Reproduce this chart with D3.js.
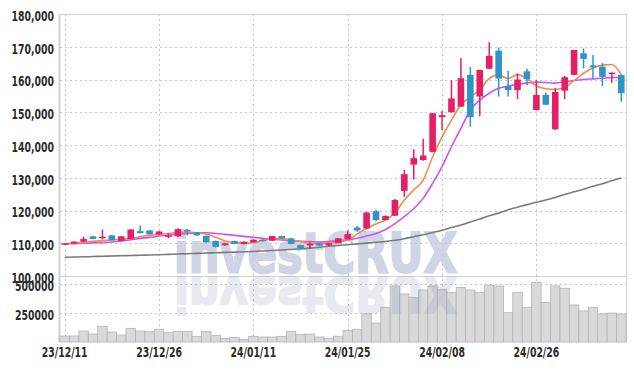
<!DOCTYPE html>
<html lang="en">
<head>
<meta charset="utf-8">
<title>Candles</title>
<script src="https://cdn.jsdelivr.net/npm/d3@7"></script>
<style>
  body { margin: 0; background: #fff; }
  .tick text { font-family: 'DejaVu Sans Condensed', 'DejaVu Sans', sans-serif; font-size: 14px; font-weight: bold; fill: #2b2b2b; }
</style>
</head>
<body>
<script>
// trading days
var dates = ["23/12/11","23/12/12","23/12/13","23/12/14","23/12/15","23/12/18","23/12/19","23/12/20","23/12/21","23/12/22",
  "23/12/26","23/12/27","23/12/28","24/01/02","24/01/03","24/01/04","24/01/05","24/01/08","24/01/09","24/01/10",
  "24/01/11","24/01/12","24/01/15","24/01/16","24/01/17","24/01/18","24/01/19","24/01/22","24/01/23","24/01/24",
  "24/01/25","24/01/26","24/01/29","24/01/30","24/01/31","24/02/01","24/02/02","24/02/05","24/02/06","24/02/07",
  "24/02/08","24/02/13","24/02/14","24/02/15","24/02/16","24/02/19","24/02/20","24/02/21","24/02/22","24/02/23",
  "24/02/26","24/02/27","24/02/28","24/02/29","24/03/04","24/03/05","24/03/06","24/03/07","24/03/08","24/03/11"];

var open  = [109700,109900,110500,112100,111900,112400,110700,111300,113700,113900,
  112700,112300,112100,114100,113300,112300,110700,109400,110700,109800,
  110300,111100,110800,112200,111500,109500,109700,110000,109400,110000,
  111200,114800,114500,119800,117100,118400,126000,134000,135400,137900,
  148500,150000,151700,161400,154800,163300,168800,158000,156800,162500,
  150700,155300,144800,156600,161400,168000,164300,163900,161700,161400];
var high  = [110000,110600,112000,112200,114200,112500,112200,114300,115400,114000,
  113700,113100,114600,114300,113400,112400,110800,110100,110800,110500,
  111200,111300,112300,112300,111600,109600,110300,110100,110100,111600,
  113900,115300,119500,120200,118500,123500,132400,138700,141900,149800,
  150400,159800,166500,163800,163000,171400,169800,162700,161900,163300,
  159800,156000,157300,161100,169000,169500,167500,165000,162100,161500];
var low   = [109600,109800,110400,111200,111200,110900,110600,111200,113000,112700,
  112600,111500,111900,112400,112300,110200,108700,109200,109700,109600,
  110200,110700,110700,111300,109700,108000,108400,109200,109000,109900,
  111100,113500,114400,116700,117000,118300,124200,129500,135200,137800,
  144600,149900,151600,145600,148800,163200,154800,154800,154000,158300,
  150600,152200,144600,154000,161300,163400,160400,158000,159000,153200];
var close = [110000,110500,111300,111300,112000,110900,112100,114200,113100,112700,
  113600,112400,114300,113600,112400,110300,108900,110000,109800,110400,
  111100,110800,112200,111400,109800,108400,109800,109300,110000,111500,
  112800,113900,119400,117100,118300,123200,131100,136000,136800,149700,
  149100,154200,160400,148500,162900,167200,160300,156800,160000,160100,
  155300,152300,156200,160700,169000,166300,163700,160800,162100,155800];

var volume = [52000,52000,95000,69000,135000,86000,60000,118000,95000,89000,
  110000,80000,92000,92000,49000,92000,58000,32000,40000,23000,
  49000,43000,43000,49000,92000,66000,69000,43000,32000,50000,
  98000,110000,242000,164000,300000,484000,415000,386000,449000,484000,
  455000,429000,472000,449000,429000,492000,484000,253000,429000,300000,
  515000,343000,484000,464000,320000,268000,300000,242000,250000,242000];

// moving average lines
var ma5 = [109800,110000,110300,110600,110800,111000,111200,111500,112000,112400,
  112800,113000,113300,113400,113200,112800,111800,110700,110200,110000,
  110200,110800,111300,111400,111000,110500,110000,109800,110000,110500,
  111000,112800,114500,115900,117100,119300,123200,126300,129300,136400,
  142500,147600,152200,154700,156800,160300,161400,160300,161500,160300,
  158000,157200,157000,157500,159700,161900,163500,164400,164600,161500];
var ma20 = [109800,109900,110000,110100,110200,110400,110700,111100,111500,111800,
  112200,112500,112800,113000,113200,113200,113000,112700,112400,112100,
  111800,111500,111200,111000,110800,110600,110500,110400,110500,110800,
  111000,111500,112200,113000,114200,116000,118100,120600,123700,128300,
  133400,139500,145100,150700,153700,155800,157300,158000,158500,158900,
  159200,159100,158900,159300,159700,160000,160200,160400,160600,160700];
var ma120 = [105700,105780,105860,105940,106020,106100,106180,106260,106340,106420,
  106500,106600,106700,106800,106900,107000,107100,107200,107300,107400,
  107500,107650,107800,107950,108100,108300,108500,108800,109100,109350,
  109550,109800,110050,110300,110550,110900,111400,112000,112600,113300,
  114000,114800,115600,116500,117400,118400,119200,120200,121000,121800,
  122500,123200,124000,124900,125700,126500,127400,128200,129100,129900];

var priceTicks = [100000,110000,120000,130000,140000,150000,160000,170000,180000];
var volTicks = [250000, 500000];
var tickLabels = ["23/12/11","23/12/26","24/01/11","24/01/25","24/02/08","24/02/26"];

var W = 634, H = 370;
var pLeft = 60, pRight = 626, pTop = 14, pMid = 276, pBottom = 342;

var svg = d3.select("body").append("svg")
  .attr("width", W).attr("height", H);

var x = d3.scaleBand().domain(dates).range([pLeft, pRight])
  .paddingInner(0.3).paddingOuter(0.15);
var step = x.step();
var cx = function(d) { return x(d) + x.bandwidth() / 2; };

var y = d3.scaleLinear().domain([100000, 180000]).range([pMid, pTop]);
var yv = d3.scaleLinear().domain([0, 570000]).range([pBottom, pMid]);

// watermark
var mark = function(sel) {
  return sel.attr("x", 174).attr("y", 272)
    .attr("textLength", 283).attr("lengthAdjust", "spacingAndGlyphs")
    .style("font-family", "DejaVu Sans").style("font-weight", "bold")
    .style("font-size", "55px").style("stroke-width", 2.2)
    .text("investCRUX");
};
svg.append("text").call(mark).style("fill", "#cfd5e5").style("stroke", "#cfd5e5");

// grid
var grid = svg.append("g");
grid.selectAll("line.h").data(priceTicks.slice(1, -1)).enter().append("line")
  .attr("x1", pLeft).attr("x2", pRight)
  .attr("y1", function(d) { return Math.round(y(d)) + 0.5; }).attr("y2", function(d) { return Math.round(y(d)) + 0.5; });
grid.selectAll("line.v").data(volTicks).enter().append("line")
  .attr("x1", pLeft).attr("x2", pRight)
  .attr("y1", function(d) { return Math.round(yv(d)) + 0.5; }).attr("y2", function(d) { return Math.round(yv(d)) + 0.5; });
grid.selectAll("line.x").data(tickLabels).enter().append("line")
  .attr("x1", function(d) { return Math.round(cx(d)) + 0.5; }).attr("x2", function(d) { return Math.round(cx(d)) + 0.5; })
  .attr("y1", pTop).attr("y2", pBottom);
grid.selectAll("line").attr("stroke", "#c4c7d6").attr("stroke-dasharray", "2,3");

// frame
var frame = svg.append("g").attr("stroke", "#cfd0d8").attr("fill", "none");
frame.append("line").attr("x1", pLeft).attr("x2", pRight).attr("y1", pTop + 0.5).attr("y2", pTop + 0.5);
frame.append("line").attr("x1", pLeft).attr("x2", pRight).attr("y1", pMid + 0.5).attr("y2", pMid + 0.5);
frame.append("line").attr("x1", pLeft).attr("x2", pRight).attr("y1", pBottom - 0.5).attr("y2", pBottom - 0.5);
frame.append("line").attr("x1", pLeft - 0.5).attr("x2", pLeft - 0.5).attr("y1", pTop).attr("y2", pBottom).attr("stroke-width", 2);
frame.append("line").attr("x1", pRight + 0.5).attr("x2", pRight + 0.5).attr("y1", pTop).attr("y2", pBottom);

// volume
svg.append("g").selectAll("rect").data(dates).enter().append("rect")
  .attr("x", function(d) { return x(d) - step * 0.15; })
  .attr("width", step)
  .attr("y", function(d, i) { return yv(volume[i]); })
  .attr("height", function(d, i) { return pBottom - yv(volume[i]); })
  .attr("fill", "#d9d9db").attr("stroke", "#b4b4b8").attr("stroke-width", 0.8);

// watermark reflection
svg.append("g").attr("transform", "translate(0,277) scale(1,-0.9) translate(0,-272)")
  .append("text").call(mark)
  .style("fill", "#8f98b8").style("stroke", "#8f98b8").style("opacity", 0.2);

// moving averages
var line = function(arr) {
  return d3.line().x(function(d) { return cx(d); })
    .y(function(d, i) { return y(arr[i]); })
    .curve(d3.curveMonotoneX)(dates);
};
svg.append("path").attr("d", line(ma120)).attr("fill", "none").attr("stroke", "#7b7b7b").attr("stroke-width", 1.6);
svg.append("path").attr("d", line(ma20)).attr("fill", "none").attr("stroke", "#cc55ee").attr("stroke-width", 1.6);
svg.append("path").attr("d", line(ma5)).attr("fill", "none").attr("stroke", "#ef8b4e").attr("stroke-width", 1.6);

// candles
var up = "#e61e66", down = "#2f95c8";
var candles = svg.append("g").selectAll("g").data(dates).enter().append("g");
candles.append("line")
  .attr("x1", function(d) { return cx(d); }).attr("x2", function(d) { return cx(d); })
  .attr("y1", function(d, i) { return y(high[i]); })
  .attr("y2", function(d, i) { return y(low[i]); })
  .attr("stroke", function(d, i) { return close[i] >= open[i] ? up : down; })
  .attr("stroke-width", 1.5);
candles.append("rect")
  .attr("x", function(d) { return x(d); })
  .attr("width", x.bandwidth())
  .attr("y", function(d, i) { return y(Math.max(open[i], close[i])); })
  .attr("height", function(d, i) { return Math.max(1.5, Math.abs(y(open[i]) - y(close[i]))); })
  .attr("fill", function(d, i) { return close[i] >= open[i] ? up : down; });

// axes
var ya = svg.append("g").attr("transform", "translate(" + pLeft + ",2)")
  .call(d3.axisLeft(y).tickValues(priceTicks).tickFormat(d3.format(",")).tickSize(0).tickPadding(6));
ya.select(".domain").remove();
var va = svg.append("g").attr("transform", "translate(" + pLeft + ",2)")
  .call(d3.axisLeft(yv).tickValues(volTicks).tickFormat(function(d) { return d; }).tickSize(0).tickPadding(6));
va.select(".domain").remove();
var xa = svg.append("g").attr("transform", "translate(0," + pBottom + ")")
  .call(d3.axisBottom(x).tickValues(tickLabels).tickSize(0).tickPadding(5));
xa.select(".domain").remove();

// squeeze the tick labels to the narrow face of the original
svg.selectAll(".tick text").each(function() {
  var w = this.getComputedTextLength();
  d3.select(this).attr("textLength", w * 0.74).attr("lengthAdjust", "spacingAndGlyphs");
});
</script>
</body>
</html>
